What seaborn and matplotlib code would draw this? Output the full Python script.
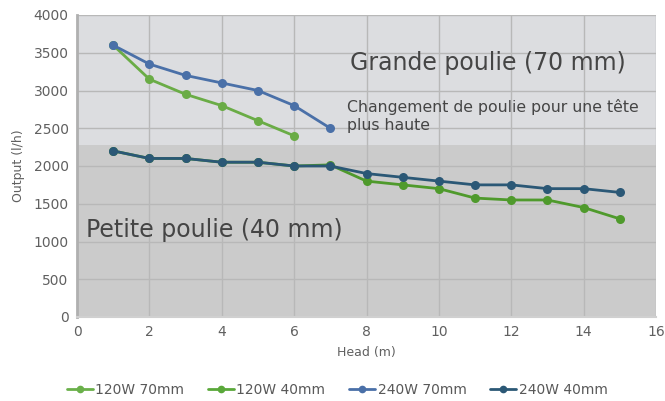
import matplotlib
matplotlib.use("Agg")
import matplotlib.pyplot as plt
import seaborn as sns
import pandas as pd

head_70_120 = [1, 2, 3, 4, 5, 6]
out_120w_70 = [3600, 3150, 2950, 2800, 2600, 2400]
head_70_240 = [1, 2, 3, 4, 5, 6, 7]
out_240w_70 = [3600, 3350, 3200, 3100, 3000, 2800, 2500]
head_40 = list(range(1, 16))
out_120w_40 = [2200, 2100, 2100, 2050, 2050, 2000, 2015, 1800, 1750, 1700, 1575, 1550, 1550, 1450, 1300]
out_240w_40 = [2200, 2100, 2100, 2050, 2050, 2000, 2000, 1900, 1850, 1800, 1750, 1750, 1700, 1700, 1650]
series_names = ["120W 70mm", "120W 40mm", "240W 70mm", "240W 40mm"]
colors = {"120W 70mm": "#6aac46", "120W 40mm": "#4f9a2c",
          "240W 70mm": "#4a70a8", "240W 40mm": "#2b5876"}
legend_colors = {"120W 70mm": "#6ab04a", "120W 40mm": "#5aa83a",
                 "240W 70mm": "#4a70a8", "240W 40mm": "#2b5876"}

frames = [
    pd.DataFrame({"head": head_70_120, "out": out_120w_70, "s": "120W 70mm"}),
    pd.DataFrame({"head": head_40, "out": out_120w_40, "s": "120W 40mm"}),
    pd.DataFrame({"head": head_70_240, "out": out_240w_70, "s": "240W 70mm"}),
    pd.DataFrame({"head": head_40, "out": out_240w_40, "s": "240W 40mm"}),
]
df = pd.concat(frames, ignore_index=True)

sns.set_theme(style="white")
plt.rcParams['font.family'] = ['DejaVu Sans']

fig = plt.figure(figsize=(6.65, 4.01), dpi=100)
ax = fig.add_axes([77/665, 1-317/401, (656-77)/665, (317-15)/401])
ax.set_facecolor("#dcdde0")
ax.axhspan(0, 2280, color="#cbcbcb", zorder=0, lw=0)

sns.lineplot(data=df, x="head", y="out", hue="s", hue_order=series_names,
             palette=colors, marker="o", markersize=6.5, markeredgewidth=0,
             linewidth=2, ax=ax, legend=False, zorder=3)

ax.set_xlim(0, 16)
ax.set_ylim(0, 4000)
ax.set_xticks(range(0, 17, 2))
ax.set_yticks(range(0, 4001, 500))
ax.grid(True, color="#b8b8b8", linewidth=1)
ax.set_axisbelow(True)
for s in ["top", "right"]:
    ax.spines[s].set_visible(False)
ax.spines["left"].set_color("#b0b0b0")
ax.spines["left"].set_linewidth(2)
ax.spines["bottom"].set_color("#d0d0d0")
ax.spines["bottom"].set_linewidth(1.5)
ax.tick_params(axis="both", labelsize=10, colors="#606060", length=0, pad=6)
ax.set_xlabel("Head (m)", fontsize=9, color="#606060", labelpad=5)
ax.set_ylabel("Output (l/h)", fontsize=9, color="#606060", labelpad=6)

ax.text(7.54, 3364, "Grande poulie (70 mm)", fontsize=17, color="#454545", va="center")
ax.text(0.25, 1152, "Petite poulie (40 mm)", fontsize=17, color="#454545", va="center")
ax.text(7.46, 2662, "Changement de poulie pour une tête\nplus haute", fontsize=11.3,
        color="#454545", va="center", linespacing=1.25)

handles = [plt.Line2D([], [], color=legend_colors[n], marker="o", markersize=5.5, lw=2,
                      markeredgewidth=0) for n in series_names]
fig.legend(handles, series_names, loc="center", bbox_to_anchor=(0.507, 1 - 390/401),
           ncol=4, frameon=False, fontsize=10, labelcolor="#595959",
           handlelength=1.9, handletextpad=0.15, columnspacing=1.7)

fig.savefig("out.png", dpi=100, facecolor="white")
